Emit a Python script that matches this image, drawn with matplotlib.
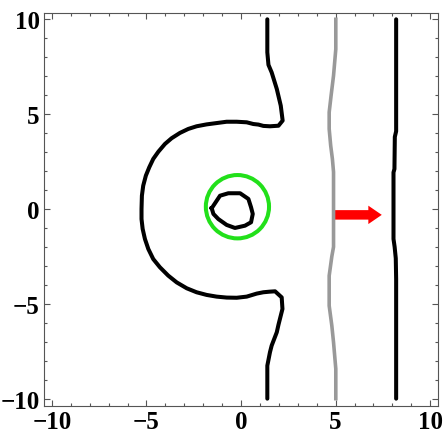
import matplotlib.pyplot as plt
from matplotlib.ticker import MultipleLocator

# outer contour: from top end, down around the left bulge, to bottom end
outer_x = [1.39, 1.39, 1.45, 1.62, 1.89, 2.10, 2.17, 2.20, 1.98, 1.53, 1.18, 0.92,
           0.65, 0.30, -0.23, -0.76, -1.29, -1.82, -2.35, -2.79, -3.23, -3.67,
           -4.02, -4.37, -4.64, -4.85, -5.03, -5.17, -5.24, -5.26, -5.26, -5.20,
           -5.08, -4.90, -4.64, -4.29, -3.85, -3.40, -2.87, -2.35, -1.82, -1.29,
           -0.76, -0.23, 0.30, 0.83, 1.18, 1.50, 1.80,
           2.15, 2.19, 1.98, 1.89, 1.62, 1.53, 1.39, 1.39]
outer_y = [10.0, 8.26, 7.60, 7.20, 6.33, 5.45, 4.90, 4.66, 4.39, 4.36, 4.38, 4.45,
           4.48, 4.57, 4.60, 4.60, 4.53, 4.46, 4.36, 4.22, 4.01, 3.73,
           3.43, 3.02, 2.64, 2.20, 1.76, 1.23, 0.70, 0.0, -0.53, -1.05,
           -1.58, -2.11, -2.64, -3.07, -3.51, -3.87, -4.18, -4.39, -4.53, -4.62,
           -4.67, -4.68, -4.62, -4.46, -4.39, -4.36, -4.34,
           -4.66, -5.27, -6.10, -6.50, -7.20, -7.55, -8.26, -10.0]

# inner closed contour
inner_x = [-1.55, -1.11, -0.67, -0.05, 0.39, 0.53, 0.62, 0.53, 0.21, -0.32,
           -0.76, -1.20, -1.46, -1.55]
inner_y = [0.04, 0.70, 0.83, 0.83, 0.53, 0.09, -0.26, -0.70, -0.88, -1.00,
           -0.84, -0.53, -0.26, 0.04]

# grey front
grey_x = [5.01, 5.01, 4.89, 4.76, 4.66, 4.66, 4.74, 4.83, 4.89, 4.89, 4.80,
          4.66, 4.66, 4.80, 4.89, 5.01, 5.01]
grey_y = [10.0, 8.43, 7.03, 5.97, 5.10, 4.22, 3.34, 2.64, 1.95, -2.00, -2.50,
          -3.52, -5.10, -6.15, -7.03, -8.43, -10.0]

# black front on the right
right_x = [8.20, 8.20, 8.13, 8.11, 8.08, 8.06, 8.06, 8.12, 8.18, 8.20, 8.20]
right_y = [10.0, 4.10, 3.80, 2.11, 2.00, 1.93, -1.58, -2.00, -2.60, -3.69, -10.0]

# circle and arrow
circle_center = (-0.19, 0.12)
circle_radius = 1.67
arrow_start = (4.83, -0.31)
arrow_end = 7.44

fig = plt.figure(figsize=(4.48, 4.39), dpi=100)
ax = fig.add_axes([0.098, 0.0736, 0.88, 0.8944])

ax.plot(outer_x, outer_y, color='black', lw=2.9, solid_joinstyle='round',
        solid_capstyle='round')
ax.plot(inner_x, inner_y, color='black', lw=2.9, solid_joinstyle='round')
ax.plot(grey_x, grey_y, color='#999999', lw=2.6, solid_joinstyle='round')
ax.plot(right_x, right_y, color='black', lw=2.9, solid_joinstyle='round',
        solid_capstyle='round')

circ = plt.Circle(circle_center, circle_radius, fill=False, color='#22e01a', lw=2.9)
ax.add_patch(circ)

ax.arrow(arrow_start[0], arrow_start[1], arrow_end - arrow_start[0], 0,
         width=0.5, head_width=0.97, head_length=0.71,
         length_includes_head=True, color='red', lw=0)

ax.set_xlim(-10.42, 10.42)
ax.set_ylim(-10.37, 10.33)
ax.xaxis.set_major_locator(MultipleLocator(5))
ax.yaxis.set_major_locator(MultipleLocator(5))
ax.xaxis.set_minor_locator(MultipleLocator(1))
ax.yaxis.set_minor_locator(MultipleLocator(1))
ax.tick_params(which='both', direction='in', top=True, right=True,
               color='#555555', width=0.8)
ax.tick_params(which='major', length=4.5, pad=3)
ax.tick_params(which='minor', length=2.5)
for lab in ax.get_xticklabels() + ax.get_yticklabels():
    lab.set_fontfamily('Liberation Serif')
    lab.set_fontweight('bold')
    lab.set_fontsize(18)
for sp in ax.spines.values():
    sp.set_color('#555555')
    sp.set_linewidth(0.8)

fig.savefig('out.png', dpi=100)
